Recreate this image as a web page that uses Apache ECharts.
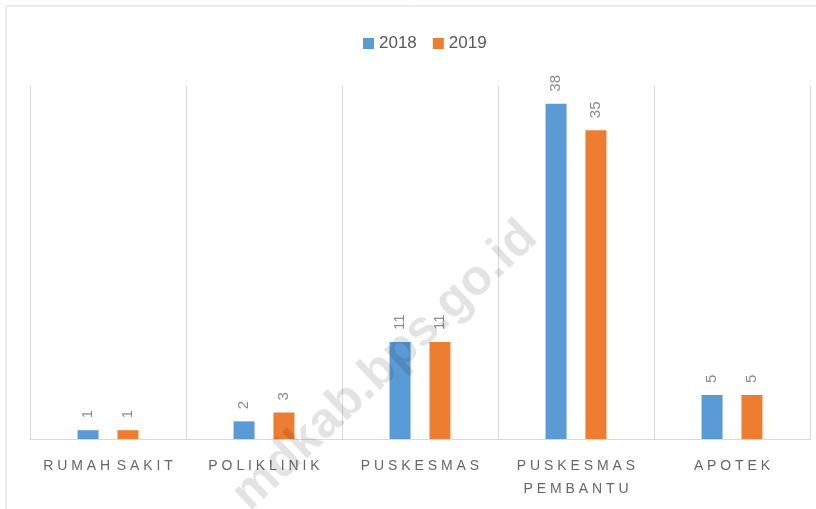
<!DOCTYPE html>
<html>
<head>
<meta charset="utf-8">
<script src="https://cdn.jsdelivr.net/npm/echarts@6/dist/echarts.min.js"></script>
<style>
  html, body { margin: 0; padding: 0; background: #fff; }
  #chart { width: 816px; height: 509px; }
</style>
</head>
<body>
<div id="chart"></div>
<script>
// data
var categories = ['RUMAH SAKIT', 'POLIKLINIK', 'PUSKESMAS', 'PUSKESMAS PEMBANTU', 'APOTEK'];
var tahun2018 = [1, 2, 11, 38, 5];
var tahun2019 = [1, 3, 11, 35, 5];
var seriesNames = ['2018', '2019'];

// spaced capitals like the original
function spaceOut(name) {
    var words = name.split(' ');
    var spaced = words.map(function (w) { return w.split('').join(' '); });
    if (name.length > 14)
        return spaced.join('\n');
    return spaced.join(' \u2009');
}

var chart = echarts.init(document.getElementById('chart'));

var labelStyle = {
    show: true,
    position: 'top',
    rotate: 90,
    align: 'left',
    verticalAlign: 'middle',
    distance: 12,
    color: '#8c8c8c',
    fontSize: 15,
    fontFamily: 'Liberation Sans'
};

chart.setOption({
    animation: false,
    textStyle: { fontFamily: 'Liberation Sans' },
    legend: {
        data: seriesNames,
        left: 358,
        top: 30,
        itemWidth: 11,
        itemHeight: 11,
        itemGap: 16,
        icon: 'rect',
        textStyle: { color: '#595959', fontSize: 17 }
    },
    grid: { left: 30, right: 6, top: 86, bottom: 70 },
    xAxis: {
        type: 'category',
        data: categories,
        axisTick: { show: false },
        axisLine: { lineStyle: { color: '#d9d9d9' } },
        splitLine: { show: true, lineStyle: { color: '#d9d9d9' } },
        axisLabel: {
            color: '#666666',
            fontSize: 14,
            margin: 16,
            lineHeight: 23,
            interval: 0,
            formatter: spaceOut
        }
    },
    yAxis: {
        type: 'value',
        min: 0,
        max: 40,
        show: false
    },
    series: [
        {
            name: '2018',
            type: 'bar',
            data: tahun2018,
            barWidth: 21,
            barGap: '90%',
            itemStyle: { color: '#5B9BD5' },
            label: labelStyle
        },
        {
            name: '2019',
            type: 'bar',
            data: tahun2019,
            barWidth: 21,
            itemStyle: { color: '#ED7D31' },
            label: labelStyle
        }
    ],
    graphic: [
        {
            type: 'rect',
            shape: { x: 6, y: 6, width: 900, height: 600 },
            style: { fill: 'none', stroke: '#d9d9d9', lineWidth: 1 },
            silent: true
        },
        {
            type: 'text',
            x: 385,
            y: 366,
            rotation: Math.PI * 0.24,
            z: 100,
            silent: true,
            style: {
                text: 'mdkab.bps.go.id',
                fill: 'rgba(0,0,0,0.11)',
                font: 'bold 50px "Liberation Sans"',
                textAlign: 'center',
                textVerticalAlign: 'middle'
            }
        }
    ]
});
</script>
</body>
</html>
